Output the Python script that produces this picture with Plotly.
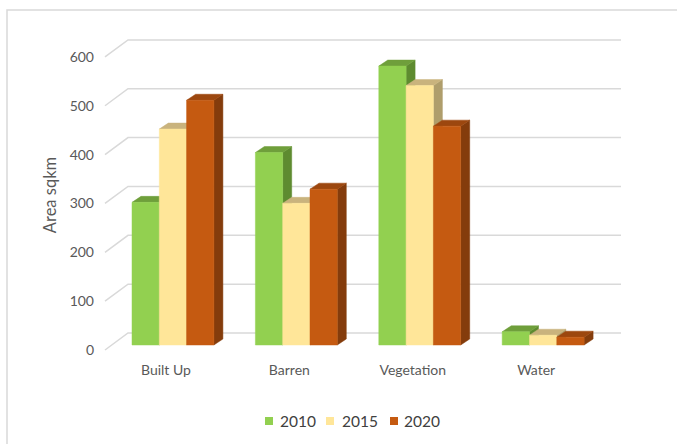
import plotly.graph_objects as go

# ---------------- data ----------------
categories = ["Built Up", "Barren", "Vegetation", "Water"]
years = ["2010", "2015", "2020"]
values_2010 = [292, 394, 571, 27]
values_2015 = [442, 290, 531, 20]
values_2020 = [501, 319, 448, 16]
y_ticks = [0, 100, 200, 300, 400, 500, 600]
y_title = "Area sqkm"

series = [values_2010, values_2015, values_2020]
front_colors = ["#92D050", "#FFE699", "#C55A11"]
top_colors = ["#6F9F3B", "#C9B37D", "#9C470F"]
side_colors = ["#5E8B30", "#AF9E6C", "#843C0C"]

# ---------------- layout constants (pixels) ----------------
W, H = 677, 444
L, R, T, B = 95, 640, 30, 360
PX_PER_UNIT = 0.4885
BASE_PX = 345
Y_MIN = (BASE_PX - B) / PX_PER_UNIT
Y_MAX = (BASE_PX - T) / PX_PER_UNIT

GROUP_X0 = 132
GROUP_STEP = 123.4
BAR_W = 27.3
DEPTH_DX = 9
DEPTH_DY = 6 / PX_PER_UNIT
FRONT_DY = -5 / PX_PER_UNIT
BACK_DY = 12 / PX_PER_UNIT
FLOOR_X0, WALL_X0, WALL_X1 = 105, 128, 621
LABEL_SHIFT = -7

GRID_COLOR = "#D9D9D9"
TEXT_COLOR = "#595959"
FONT = "Lato, Calibri, Carlito, sans-serif"


def paper_x(px):
    return (px - L) / (R - L)


def paper_y(py):
    return (B - py) / (B - T)


fig = go.Figure()

# back wall gridlines + floor diagonals
gx, gy = [], []
for v in y_ticks:
    gx += [FLOOR_X0, WALL_X0, WALL_X1, None]
    gy += [v + FRONT_DY, v + BACK_DY, v + BACK_DY, None]
fig.add_trace(go.Scatter(x=gx, y=gy, mode="lines",
                         line=dict(color=GRID_COLOR, width=1.5),
                         hoverinfo="skip", showlegend=False))

# 3D bars
for j, (name, vals) in enumerate(zip(years, series)):
    fx, fy, sx, sy, tx, ty = [], [], [], [], [], []
    for i, v in enumerate(vals):
        xl = GROUP_X0 + i * GROUP_STEP + j * BAR_W
        xr = xl + BAR_W
        fx += [xl, xr, xr, xl, xl, None]
        fy += [0, 0, v, v, 0, None]
        sx += [xr, xr + DEPTH_DX, xr + DEPTH_DX, xr, xr, None]
        sy += [0, DEPTH_DY, v + DEPTH_DY, v, 0, None]
        tx += [xl, xl + DEPTH_DX, xr + DEPTH_DX, xr, xl, None]
        ty += [v, v + DEPTH_DY, v + DEPTH_DY, v, v, None]
    fig.add_trace(go.Scatter(x=sx, y=sy, fill="toself", mode="lines",
                             fillcolor=side_colors[j],
                             line=dict(color=side_colors[j], width=0.5),
                             hoverinfo="skip", showlegend=False))
    fig.add_trace(go.Scatter(x=tx, y=ty, fill="toself", mode="lines",
                             fillcolor=top_colors[j],
                             line=dict(color=top_colors[j], width=0.5),
                             hoverinfo="skip", showlegend=False))
    fig.add_trace(go.Scatter(x=fx, y=fy, fill="toself", mode="lines",
                             fillcolor=front_colors[j],
                             line=dict(color=front_colors[j], width=0.5),
                             name=name, showlegend=False))

# category tick positions
cat_ticks = [GROUP_X0 + i * GROUP_STEP + 1.5 * BAR_W + LABEL_SHIFT
             for i in range(len(categories))]

# manual legend
legend_sq_x = [265, 326, 390]
legend_txt_x = [279, 341, 403]
LEGEND_Y = 421
shapes = [dict(type="rect", xref="paper", yref="paper",
               x0=paper_x(7), x1=paper_x(700), y0=paper_y(470), y1=paper_y(10),
               line=dict(color="#D9D9D9", width=1.5), fillcolor="rgba(0,0,0,0)",
               layer="below")]
annotations = []
for j, name in enumerate(years):
    shapes.append(dict(type="rect", xref="paper", yref="paper",
                       x0=paper_x(legend_sq_x[j]), x1=paper_x(legend_sq_x[j] + 8),
                       y0=paper_y(LEGEND_Y + 4), y1=paper_y(LEGEND_Y - 4),
                       line=dict(width=0), fillcolor=front_colors[j]))
    annotations.append(dict(text=name, xref="paper", yref="paper",
                            x=paper_x(legend_txt_x[j] - 1), y=paper_y(LEGEND_Y),
                            xanchor="left", yanchor="middle", showarrow=False,
                            font=dict(family=FONT, size=15.5, color="#404040")))

fig.update_layout(
    width=W, height=H,
    margin=dict(l=L, r=W - R, t=T, b=H - B, pad=0),
    paper_bgcolor="white", plot_bgcolor="white",
    showlegend=False,
    shapes=shapes, annotations=annotations,
    font=dict(family=FONT, size=13, color=TEXT_COLOR),
    xaxis=dict(range=[L, R], showgrid=False, zeroline=False, showline=False,
               tickmode="array", tickvals=cat_ticks, ticktext=categories,
               ticks="", tickfont=dict(family=FONT, size=14, color=TEXT_COLOR)),
    yaxis=dict(range=[Y_MIN, Y_MAX], showgrid=False, zeroline=False, showline=False,
               tickmode="array", tickvals=[v + FRONT_DY for v in y_ticks],
               ticktext=[str(v) for v in y_ticks], ticks="",
               tickfont=dict(family=FONT, size=14, color=TEXT_COLOR),
               title=dict(text=y_title, standoff=8,
                          font=dict(family=FONT, size=16.5, color=TEXT_COLOR))),
)

fig.write_html("out.html")
